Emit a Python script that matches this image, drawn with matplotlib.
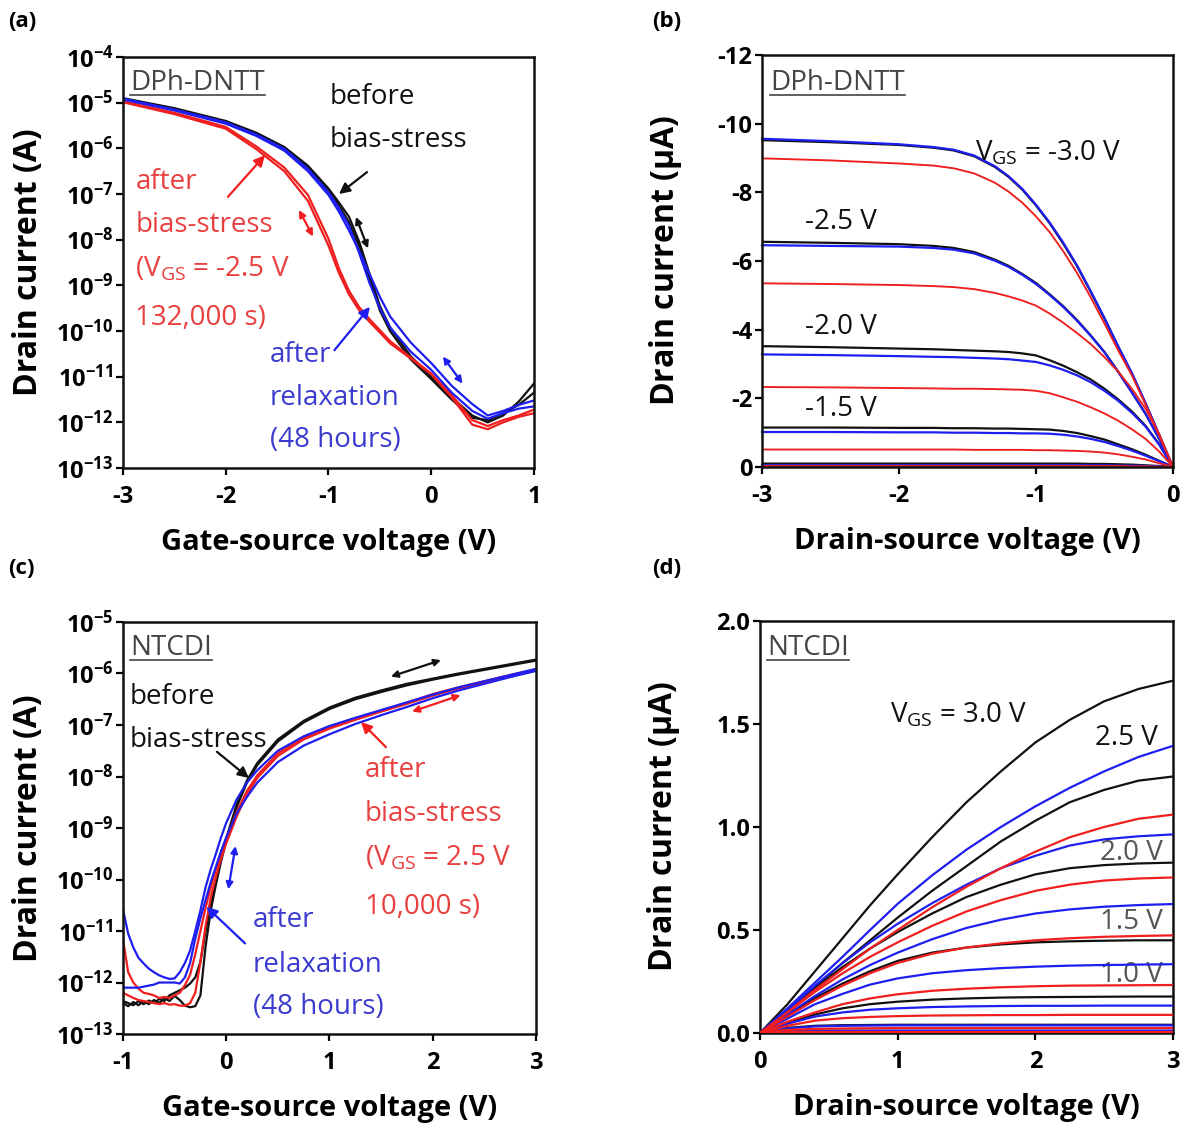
import numpy as np
import matplotlib
matplotlib.use("Agg")
from matplotlib import pyplot as plt
from matplotlib.lines import Line2D

plt.rcParams['font.family'] = ['Open Sans', 'DejaVu Sans']
plt.rcParams['mathtext.fontset'] = 'custom'
plt.rcParams['mathtext.rm'] = 'Open Sans'
plt.rcParams['mathtext.bf'] = 'Open Sans:bold'
plt.rcParams['axes.unicode_minus'] = False

BLACK = '#111111'
RED = '#f01e1e'
BLUE = '#1e1ef0'
RED_TXT = '#e8403f'
BLUE_TXT = '#3b3bd0'
GREY_TXT = '#444444'

# ---------------- (a) DPh-DNTT transfer curves, log10 of drain current (A)
xa = [-3, -2.5, -2, -1.7, -1.43, -1.2, -1.0, -0.9, -0.8, -0.7, -0.6, -0.5,
      -0.4, -0.2, 0, 0.2, 0.4, 0.55, 0.7, 0.85, 1.0]
a_black_fwd = [-4.90, -5.12, -5.40, -5.66, -5.97, -6.38, -6.88, -7.18, -7.50, -8.05, -8.75,
               -9.45, -9.92, -10.55, -11.00, -11.45, -11.85, -12.00, -11.85, -11.55, -11.15]
a_black_rev = [-4.92, -5.14, -5.43, -5.69, -6.00, -6.42, -6.92, -7.25, -7.62, -8.15, -8.85,
               -9.55, -10.00, -10.62, -11.05, -11.50, -11.90, -11.95, -11.80, -11.62, -11.35]
a_red_fwd = [-4.99, -5.25, -5.57, -6.02, -6.50, -7.15, -8.13, -8.72, -9.20, -9.55, -9.80,
             -10.03, -10.27, -10.60, -10.95, -11.45, -12.05, -12.15, -12.00, -11.88, -11.80]
a_red_rev = [-4.97, -5.22, -5.53, -5.96, -6.42, -7.02, -7.98, -8.62, -9.12, -9.48, -9.74,
             -9.98, -10.22, -10.58, -10.93, -11.40, -11.95, -12.08, -11.95, -11.85, -11.72]
a_blue_fwd = [-4.91, -5.15, -5.43, -5.70, -6.01, -6.45, -6.96, -7.30, -7.69, -8.30, -8.95,
              -9.50, -9.92, -10.45, -10.85, -11.35, -11.75, -11.92, -11.80, -11.70, -11.65]
a_blue_rev = [-4.93, -5.17, -5.46, -5.73, -6.05, -6.50, -7.02, -7.38, -7.80, -8.25, -8.75,
              -9.25, -9.68, -10.25, -10.70, -11.20, -11.60, -11.85, -11.75, -11.62, -11.52]

# ---------------- (b) DPh-DNTT output curves (uA), one list per V_GS
xb = [-3, -2.5, -2, -1.75, -1.6, -1.45, -1.3, -1.2, -1.1, -1.0, -0.9, -0.8, -0.7,
      -0.6, -0.5, -0.4, -0.3, -0.2, -0.1, 0]
b_black = [
    [-9.52, -9.46, -9.38, -9.30, -9.22, -9.05, -8.74, -8.45, -8.08, -7.62, -7.10, -6.50, -5.85,
     -5.10, -4.32, -3.50, -2.72, -1.85, -0.93, 0],
    [-6.56, -6.53, -6.49, -6.44, -6.38, -6.26, -6.04, -5.86, -5.62, -5.36, -5.03, -4.68, -4.28,
     -3.83, -3.35, -2.78, -2.18, -1.55, -0.82, 0],
    [-3.52, -3.49, -3.45, -3.43, -3.41, -3.39, -3.37, -3.35, -3.31, -3.25, -3.11, -2.95, -2.76,
     -2.55, -2.28, -1.97, -1.62, -1.20, -0.66, 0],
    [-1.15, -1.15, -1.14, -1.14, -1.13, -1.13, -1.12, -1.12, -1.11, -1.10, -1.09, -1.05, -0.99,
     -0.90, -0.80, -0.66, -0.52, -0.36, -0.18, 0],
    [-0.10, -0.10, -0.10, -0.10, -0.10, -0.10, -0.10, -0.10, -0.10, -0.10, -0.10, -0.10, -0.10,
     -0.09, -0.09, -0.08, -0.07, -0.05, -0.03, 0],
]
b_blue = [
    [-9.56, -9.49, -9.40, -9.32, -9.24, -9.07, -8.76, -8.47, -8.10, -7.64, -7.12, -6.53, -5.87,
     -5.12, -4.34, -3.52, -2.74, -1.86, -0.93, 0],
    [-6.46, -6.44, -6.42, -6.38, -6.33, -6.22, -6.01, -5.83, -5.60, -5.33, -5.01, -4.66, -4.26,
     -3.82, -3.34, -2.77, -2.17, -1.55, -0.82, 0],
    [-3.28, -3.26, -3.23, -3.21, -3.20, -3.18, -3.16, -3.14, -3.10, -3.06, -2.96, -2.83, -2.67,
     -2.47, -2.22, -1.93, -1.58, -1.18, -0.65, 0],
    [-1.02, -1.02, -1.01, -1.01, -1.00, -1.00, -0.99, -0.99, -0.98, -0.98, -0.97, -0.94, -0.89,
     -0.82, -0.73, -0.61, -0.48, -0.33, -0.17, 0],
    [-0.05, -0.05, -0.05, -0.05, -0.05, -0.05, -0.05, -0.05, -0.05, -0.05, -0.05, -0.05, -0.05,
     -0.05, -0.05, -0.04, -0.04, -0.03, -0.02, 0],
]
b_red = [
    [-8.99, -8.93, -8.84, -8.78, -8.70, -8.55, -8.28, -8.02, -7.70, -7.30, -6.84, -6.28, -5.65,
     -4.94, -4.18, -3.40, -2.67, -1.82, -0.91, 0],
    [-5.35, -5.33, -5.30, -5.27, -5.24, -5.18, -5.07, -4.97, -4.85, -4.70, -4.47, -4.20, -3.90,
     -3.58, -3.20, -2.78, -2.28, -1.70, -0.95, 0],
    [-2.33, -2.32, -2.30, -2.29, -2.28, -2.28, -2.27, -2.26, -2.25, -2.22, -2.15, -2.03, -1.90,
     -1.74, -1.56, -1.35, -1.10, -0.82, -0.45, 0],
    [-0.51, -0.51, -0.51, -0.51, -0.51, -0.50, -0.50, -0.50, -0.50, -0.49, -0.49, -0.48, -0.47,
     -0.45, -0.42, -0.37, -0.30, -0.22, -0.11, 0],
    [-0.03, -0.03, -0.03, -0.03, -0.03, -0.03, -0.03, -0.03, -0.03, -0.03, -0.03, -0.03, -0.03,
     -0.03, -0.03, -0.03, -0.02, -0.02, -0.01, 0],
]
b_labels = [r'V$_{\mathrm{GS}}$ = -3.0 V', '-2.5 V', '-2.0 V', '-1.5 V']

# ---------------- (c) NTCDI transfer curves, log10 of drain current (A)
xc = [-1, -0.95, -0.9, -0.85, -0.8, -0.75, -0.7, -0.65, -0.6, -0.55, -0.5, -0.45, -0.4,
      -0.35, -0.3, -0.25, -0.2, -0.15, -0.1, -0.05, 0, 0.1, 0.2, 0.3, 0.5, 0.75, 1.0,
      1.25, 1.5, 1.75, 2.0, 2.25, 2.5, 2.75, 3.0]
c_black_fwd = [-12.40, -12.46, -12.38, -12.44, -12.36, -12.42, -12.34, -12.40, -12.30, -12.36,
               -12.26, -12.34, -12.45, -12.48, -12.46, -12.25, -11.30, -10.60, -10.10, -9.65,
               -9.25, -8.60, -8.12, -7.78, -7.32, -6.95, -6.69, -6.50, -6.36, -6.23, -6.12,
               -6.02, -5.93, -5.84, -5.75]
c_black_rev = [-12.36, -12.40, -12.44, -12.36, -12.42, -12.35, -12.40, -12.32, -12.36, -12.25,
               -12.20, -12.15, -12.10, -12.02, -11.90, -11.60, -11.00, -10.45, -10.00, -9.58,
               -9.20, -8.55, -8.08, -7.74, -7.28, -6.92, -6.66, -6.47, -6.33, -6.20, -6.10,
               -6.00, -5.91, -5.82, -5.73]
c_red_fwd = [-11.16, -11.80, -12.00, -12.12, -12.20, -12.22, -12.25, -12.30, -12.28, -12.30,
             -12.25, -12.20, -12.05, -11.85, -11.45, -11.00, -10.55, -10.15, -9.80, -9.48,
             -9.20, -8.70, -8.28, -7.98, -7.55, -7.25, -7.04, -6.88, -6.72, -6.57, -6.40,
             -6.27, -6.15, -6.03, -5.92]
c_red_rev = [-12.20, -12.25, -12.30, -12.34, -12.36, -12.38, -12.40, -12.42, -12.40, -12.43,
             -12.42, -12.45, -12.45, -12.40, -12.20, -11.60, -10.90, -10.35, -9.95, -9.60,
             -9.30, -8.78, -8.35, -8.03, -7.60, -7.28, -7.07, -6.90, -6.74, -6.59, -6.43,
             -6.29, -6.17, -6.05, -5.94]
c_blue_fwd = [-10.58, -11.05, -11.32, -11.52, -11.63, -11.73, -11.80, -11.86, -11.90, -11.93,
              -11.92, -11.80, -11.62, -11.38, -11.00, -10.60, -10.15, -9.80, -9.50, -9.18,
              -8.90, -8.45, -8.12, -7.88, -7.50, -7.22, -7.02, -6.86, -6.71, -6.56, -6.41,
              -6.27, -6.15, -6.03, -5.91]
c_blue_rev = [-12.10, -12.10, -12.10, -12.10, -12.08, -12.06, -12.04, -12.00, -12.00, -12.00,
              -12.00, -12.02, -11.90, -11.62, -11.15, -10.75, -10.40, -10.05, -9.75, -9.45,
              -9.18, -8.72, -8.40, -8.12, -7.72, -7.40, -7.18, -6.98, -6.81, -6.65, -6.48,
              -6.33, -6.20, -6.07, -5.95]

# ---------------- (d) NTCDI output curves (uA)
xd = [0, 0.2, 0.4, 0.6, 0.8, 1.0, 1.25, 1.5, 1.75, 2.0, 2.25, 2.5, 2.75, 3.0]
d_black = [
    [0, 0.14, 0.30, 0.46, 0.62, 0.77, 0.95, 1.12, 1.27, 1.41, 1.52, 1.61, 1.67, 1.71],
    [0, 0.11, 0.225, 0.34, 0.45, 0.56, 0.69, 0.81, 0.93, 1.03, 1.12, 1.18, 1.225, 1.245],
    [0, 0.11, 0.22, 0.32, 0.41, 0.49, 0.58, 0.66, 0.72, 0.77, 0.80, 0.815, 0.823, 0.827],
    [0, 0.09, 0.17, 0.24, 0.30, 0.35, 0.39, 0.415, 0.43, 0.44, 0.445, 0.448, 0.45, 0.45],
    [0, 0.05, 0.09, 0.12, 0.14, 0.152, 0.162, 0.168, 0.172, 0.174, 0.175, 0.176, 0.177, 0.177],
    [0, 0.025, 0.035, 0.038, 0.039, 0.04, 0.04, 0.04, 0.04, 0.04, 0.04, 0.04, 0.04, 0.04],
]
d_blue = [
    [0, 0.12, 0.245, 0.37, 0.50, 0.627, 0.765, 0.89, 1.00, 1.10, 1.19, 1.27, 1.34, 1.394],
    [0, 0.11, 0.23, 0.34, 0.44, 0.53, 0.63, 0.72, 0.80, 0.86, 0.91, 0.94, 0.955, 0.964],
    [0, 0.09, 0.18, 0.26, 0.33, 0.39, 0.455, 0.51, 0.55, 0.58, 0.60, 0.613, 0.621, 0.626],
    [0, 0.07, 0.14, 0.19, 0.235, 0.265, 0.29, 0.305, 0.315, 0.322, 0.327, 0.33, 0.332, 0.334],
    [0, 0.045, 0.08, 0.10, 0.113, 0.12, 0.126, 0.129, 0.131, 0.132, 0.132, 0.133, 0.133, 0.133],
    [0, 0.022, 0.032, 0.035, 0.036, 0.037, 0.037, 0.037, 0.037, 0.037, 0.037, 0.037, 0.037, 0.037],
    [0, 0.01, 0.012, 0.012, 0.012, 0.012, 0.012, 0.012, 0.012, 0.012, 0.012, 0.012, 0.012, 0.012],
]
d_red = [
    [0, 0.10, 0.21, 0.31, 0.41, 0.50, 0.61, 0.71, 0.80, 0.88, 0.95, 1.00, 1.04, 1.06],
    [0, 0.10, 0.20, 0.29, 0.37, 0.44, 0.52, 0.59, 0.645, 0.69, 0.72, 0.74, 0.75, 0.755],
    [0, 0.08, 0.16, 0.23, 0.29, 0.34, 0.385, 0.415, 0.435, 0.45, 0.46, 0.467, 0.471, 0.474],
    [0, 0.055, 0.10, 0.14, 0.168, 0.188, 0.205, 0.215, 0.222, 0.227, 0.23, 0.231, 0.232, 0.233],
    [0, 0.035, 0.06, 0.072, 0.078, 0.082, 0.085, 0.086, 0.087, 0.087, 0.088, 0.088, 0.088, 0.088],
    [0, 0.015, 0.02, 0.022, 0.023, 0.024, 0.024, 0.024, 0.024, 0.024, 0.024, 0.024, 0.024, 0.024],
    [0, 0.004, 0.005, 0.005, 0.005, 0.005, 0.005, 0.005, 0.005, 0.005, 0.005, 0.005, 0.005, 0.005],
]
d_labels = [r'V$_{\mathrm{GS}}$ = 3.0 V', '2.5 V', '2.0 V', '1.5 V', '1.0 V']

log_ticks_a = list(range(-13, -3))
log_ticks_c = list(range(-13, -4))

fig = plt.figure(figsize=(11.86, 11.27), dpi=100)
ax_a = fig.add_axes([0.1037, 0.5847, 0.3465, 0.3647])
ax_b = fig.add_axes([0.6425, 0.5856, 0.3465, 0.3656])
ax_c = fig.add_axes([0.1037, 0.0825, 0.3482, 0.3656])
ax_d = fig.add_axes([0.6408, 0.0834, 0.3482, 0.3656])

LW = 1.6
ANN = 20


def style(ax):
    for s in ax.spines.values():
        s.set_linewidth(1.8)
        s.set_color(BLACK)
    ax.tick_params(axis='both', which='major', direction='out', length=5, width=1.6,
                   labelsize=17, top=False, right=False)
    ax.tick_params(axis='x', pad=7)
    ax.tick_params(axis='y', pad=2)
    ax.tick_params(axis='both', which='minor', length=0)
    for lab in ax.get_xticklabels() + ax.get_yticklabels():
        lab.set_fontweight('bold')


def log_axis(ax, ticks):
    ax.set_yscale('log')
    ax.set_ylim(10.0 ** ticks[0], 10.0 ** ticks[-1])
    ax.set_yticks([10.0 ** k for k in ticks])
    ax.set_yticklabels([r'$\mathbf{10^{%d}}$' % k for k in ticks])
    ax.minorticks_off()


def txt(ax, x, y, s, color, size=ANN, **kw):
    return ax.text(x, y, s, color=color, fontsize=size, ha='left', va='center', **kw)


def pointer(ax, tail, head, color):
    ax.annotate('', xy=head, xytext=tail,
                arrowprops=dict(arrowstyle='-|>', color=color, lw=1.6,
                                mutation_scale=16, shrinkA=0, shrinkB=0))


def double(ax, p1, p2, color):
    ax.annotate('', xy=p2, xytext=p1,
                arrowprops=dict(arrowstyle='<|-|>', color=color, lw=1.6,
                                mutation_scale=10, shrinkA=0, shrinkB=0))


def labels(ax, xl, yl):
    ax.set_xlabel(xl, fontsize=21, fontweight='bold')
    ax.set_ylabel(yl, fontsize=23, fontweight='bold')


underlined = []

# ---- panel (a)
for ys in (a_black_fwd, a_black_rev):
    ax_a.plot(xa, 10.0 ** np.array(ys), color=BLACK, lw=LW)
for ys in (a_red_fwd, a_red_rev):
    ax_a.plot(xa, 10.0 ** np.array(ys), color=RED, lw=LW)
for ys in (a_blue_fwd, a_blue_rev):
    ax_a.plot(xa, 10.0 ** np.array(ys), color=BLUE, lw=LW)
ax_a.set_xlim(-3, 1)
ax_a.set_xticks([-3, -2, -1, 0, 1])
log_axis(ax_a, log_ticks_a)
underlined.append(txt(ax_a, -2.93, 10 ** -4.57, 'DPh-DNTT', GREY_TXT))
txt(ax_a, -0.985, 10 ** -4.88, 'before', BLACK)
txt(ax_a, -0.985, 10 ** -5.82, 'bias-stress', BLACK)
txt(ax_a, -2.88, 10 ** -6.74, 'after', RED_TXT)
txt(ax_a, -2.88, 10 ** -7.68, 'bias-stress', RED_TXT)
txt(ax_a, -2.88, 10 ** -8.64, r'(V$_{\mathrm{GS}}$ = -2.5 V', RED_TXT)
txt(ax_a, -2.88, 10 ** -9.71, '132,000 s)', RED_TXT)
txt(ax_a, -1.57, 10 ** -10.52, 'after', BLUE_TXT)
txt(ax_a, -1.57, 10 ** -11.47, 'relaxation', BLUE_TXT)
txt(ax_a, -1.57, 10 ** -12.39, '(48 hours)', BLUE_TXT)
pointer(ax_a, (-0.625, 10 ** -6.52), (-0.898, 10 ** -7.0), BLACK)
pointer(ax_a, (-1.978, 10 ** -7.06), (-1.618, 10 ** -6.15), RED)
pointer(ax_a, (-0.942, 10 ** -10.42), (-0.596, 10 ** -9.47), BLUE)
double(ax_a, (-0.733, 10 ** -7.50), (-0.615, 10 ** -8.19), BLACK)
double(ax_a, (-1.287, 10 ** -7.35), (-1.15, 10 ** -7.93), RED)
double(ax_a, (0.114, 10 ** -10.56), (0.305, 10 ** -11.15), BLUE)
labels(ax_a, 'Gate-source voltage (V)', 'Drain current (A)')

# ---- panel (b)
for ys in b_black:
    ax_b.plot(xb, ys, color=BLACK, lw=LW)
for ys in b_blue:
    ax_b.plot(xb, ys, color=BLUE, lw=LW, clip_on=False)
for ys in b_red:
    ax_b.plot(xb, ys, color=RED, lw=LW * 0.85)
ax_b.set_xlim(-3, 0)
ax_b.set_ylim(0, -12)
ax_b.set_xticks([-3, -2, -1, 0])
ax_b.set_yticks([0, -2, -4, -6, -8, -10, -12])
underlined.append(txt(ax_b, -2.94, -11.19, 'DPh-DNTT', GREY_TXT))
txt(ax_b, -1.445, -9.15, b_labels[0], BLACK)
txt(ax_b, -2.686, -7.14, b_labels[1], BLACK)
txt(ax_b, -2.686, -4.08, b_labels[2], BLACK)
txt(ax_b, -2.686, -1.69, b_labels[3], BLACK)
labels(ax_b, 'Drain-source voltage (V)', r'Drain current ($\mathbf{\mu}$A)')

# ---- panel (c)
for ys in (c_black_fwd, c_black_rev):
    ax_c.plot(xc, 10.0 ** np.array(ys), color=BLACK, lw=LW)
for ys in (c_red_fwd, c_red_rev):
    ax_c.plot(xc, 10.0 ** np.array(ys), color=RED, lw=LW)
for ys in (c_blue_fwd, c_blue_rev):
    ax_c.plot(xc, 10.0 ** np.array(ys), color=BLUE, lw=LW)
ax_c.set_xlim(-1, 3)
ax_c.set_xticks([-1, 0, 1, 2, 3])
log_axis(ax_c, log_ticks_c)
underlined.append(txt(ax_c, -0.932, 10 ** -5.505, 'NTCDI', GREY_TXT))
txt(ax_c, -0.932, 10 ** -6.456, 'before', BLACK)
txt(ax_c, -0.932, 10 ** -7.29, 'bias-stress', BLACK)
txt(ax_c, 1.344, 10 ** -7.87, 'after', RED_TXT)
txt(ax_c, 1.344, 10 ** -8.73, 'bias-stress', RED_TXT)
txt(ax_c, 1.344, 10 ** -9.58, r'(V$_{\mathrm{GS}}$ = 2.5 V', RED_TXT)
txt(ax_c, 1.344, 10 ** -10.53, '10,000 s)', RED_TXT)
txt(ax_c, 0.259, 10 ** -10.79, 'after', BLUE_TXT)
txt(ax_c, 0.259, 10 ** -11.66, 'relaxation', BLUE_TXT)
txt(ax_c, 0.259, 10 ** -12.48, '(48 hours)', BLUE_TXT)
pointer(ax_c, (-0.09, 10 ** -7.52), (0.22, 10 ** -8.03), BLACK)
pointer(ax_c, (1.547, 10 ** -7.43), (1.305, 10 ** -6.94), RED)
pointer(ax_c, (0.182, 10 ** -11.24), (-0.192, 10 ** -10.53), BLUE)
double(ax_c, (1.595, 10 ** -6.06), (2.08, 10 ** -5.74), BLACK)
double(ax_c, (1.80, 10 ** -6.74), (2.27, 10 ** -6.42), RED)
double(ax_c, (0.09, 10 ** -9.35), (0.02, 10 ** -10.19), BLUE)
labels(ax_c, 'Gate-source voltage (V)', 'Drain current (A)')

# ---- panel (d)
for ys in d_black:
    ax_d.plot(xd, ys, color=BLACK, lw=LW, zorder=3)
for ys in d_blue:
    ax_d.plot(xd, ys, color=BLUE, lw=LW, zorder=3)
for ys in d_red:
    ax_d.plot(xd, ys, color=RED, lw=LW, zorder=3)
ax_d.set_xlim(0, 3)
ax_d.set_ylim(0, 2.0)
ax_d.set_xticks([0, 1, 2, 3])
ax_d.set_yticks([0, 0.5, 1.0, 1.5, 2.0])
ax_d.set_yticklabels(['0.0', '0.5', '1.0', '1.5', '2.0'])
underlined.append(txt(ax_d, 0.05, 1.869, 'NTCDI', GREY_TXT))
txt(ax_d, 0.944, 1.544, d_labels[0], BLACK)
txt(ax_d, 2.433, 1.432, d_labels[1], BLACK)
txt(ax_d, 2.47, 0.874, d_labels[2], '#555555', zorder=2)
txt(ax_d, 2.47, 0.539, d_labels[3], '#555555', zorder=2)
txt(ax_d, 2.47, 0.282, d_labels[4], '#555555', zorder=2)
labels(ax_d, 'Drain-source voltage (V)', r'Drain current ($\mathbf{\mu}$A)')

for ax in (ax_a, ax_b, ax_c, ax_d):
    style(ax)
    ax.xaxis.set_label_coords(0.5, -0.145)
    ax.yaxis.set_label_coords(-0.19, 0.5)

fig.text(0.0067, 0.9805, '(a)', fontsize=16, fontweight='bold', va='center')
fig.text(0.5497, 0.9805, '(b)', fontsize=16, fontweight='bold', va='center')
fig.text(0.0067, 0.496, '(c)', fontsize=16, fontweight='bold', va='center')
fig.text(0.5497, 0.496, '(d)', fontsize=16, fontweight='bold', va='center')

# underline the material names
fig.canvas.draw()
inv = fig.transFigure.inverted()
for t in underlined:
    bb = t.get_window_extent()
    (x0, y0), (x1, _) = inv.transform([(bb.x0, bb.y0), (bb.x1, bb.y0)])
    fig.add_artist(Line2D([x0, x1], [y0 + 0.002, y0 + 0.002], transform=fig.transFigure,
                          color=GREY_TXT, lw=1.2))

plt.savefig('out.png', dpi=100)
